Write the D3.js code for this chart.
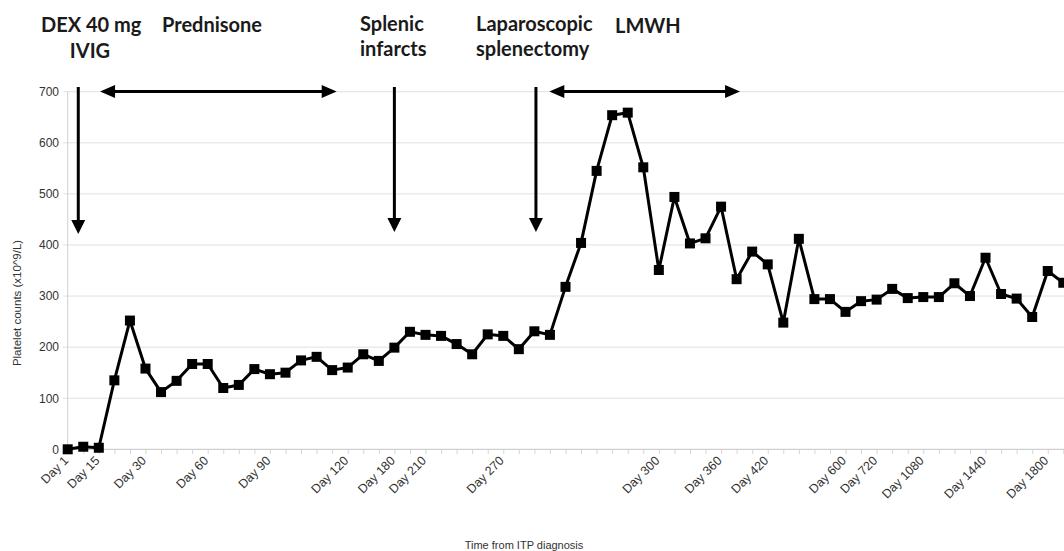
<!DOCTYPE html>
<html><head><meta charset="utf-8">
<script src="https://cdn.jsdelivr.net/npm/d3@7"></script>
<style>body{margin:0;background:#fff}</style>
</head><body>
<svg id="c" width="1064" height="551"></svg>
<script>
// Platelet counts (x10^9/L), one per measurement (category)
const values = [0,5,3,135,252,158,112,134,167,167,120,126,157,147,150,174,181,155,160,186,
  173,199,230,224,222,206,186,225,222,196,231,224,318,404,545,654,659,552,351,494,
  403,413,475,333,387,362,248,412,294,294,269,290,293,314,296,298,298,325,300,375,
  304,295,259,349,326];
// labelled categories on the time axis
const labelIndex = [0,2,5,9,13,18,21,23,28,38,42,45,50,52,55,59,63];
const labelText = ["Day 1","Day 15","Day 30","Day 60","Day 90","Day 120","Day 180","Day 210","Day 270",
  "Day 300","Day 360","Day 420","Day 600","Day 720","Day 1080","Day 1440","Day 1800"];
const yTicks = [0,100,200,300,400,500,600,700];
// treatment events (positions on the category axis)
const downEvents = [
  {at:0.68, head:234},
  {at:21.0, head:232},
  {at:30.1, head:232}
];
const spanEvents = [
  {from:2.08, to:17.29},
  {from:30.96, to:43.22}
];

const svg = d3.select("#c");
const x = d3.scalePoint().domain(d3.range(values.length)).range([67.7, 1063.3]);
const xi = d3.scaleLinear().domain([0, values.length-1]).range(x.range());
const y = d3.scaleLinear().domain([0,700]).range([449.3, 91.7]);
const axisFont = "'Liberation Sans', Arial, sans-serif";

// grid
svg.append("g").selectAll("line").data(yTicks).join("line")
  .attr("x1", 63).attr("x2", 1070)
  .attr("y1", d=>y(d)).attr("y2", d=>y(d))
  .attr("stroke", d=> d===0 ? "#c4c4c4" : "#e0e0e0").attr("stroke-width",1);
// y axis line
svg.append("line").attr("x1",x(0)).attr("x2",x(0)).attr("y1",y(700)).attr("y2",y(0))
  .attr("stroke","#d0d0d0");
// y tick labels
svg.append("g").selectAll("text").data(yTicks).join("text")
  .attr("x", 59).attr("y", d=>y(d)).attr("dy","0.36em")
  .attr("text-anchor","end").attr("font-family",axisFont).attr("font-size",12)
  .attr("fill","#333").text(d=>d);

// x axis ticks and labels
const xAxis = d3.axisBottom(x).tickSize(5).tickPadding(0)
  .tickFormat(i => { const k = labelIndex.indexOf(i); return k>=0 ? labelText[k] : ""; });
const gx = svg.append("g").attr("transform",`translate(0,${y(0)})`).call(xAxis);
gx.select(".domain").remove();
gx.selectAll(".tick line").attr("stroke","#d6d6d6");
gx.selectAll(".tick text")
  .attr("font-family",axisFont).attr("font-size",12.5).attr("fill","#333")
  .attr("text-anchor","end").attr("y",0).attr("dy",0)
  .attr("transform","translate(1,12) rotate(-45)");

// axis titles
svg.append("text").attr("transform","translate(21,303) rotate(-90)")
  .attr("text-anchor","middle").attr("font-family",axisFont).attr("font-size",11.5)
  .attr("fill","#333").text("Platelet counts (x10^9/L)");
svg.append("text").attr("x",524).attr("y",549).attr("text-anchor","middle")
  .attr("font-family",axisFont).attr("font-size",11).attr("fill","#333")
  .text("Time from ITP diagnosis");

// line + markers
const line = d3.line().x((d,i)=>x(i)).y(d=>y(d));
svg.append("path").datum(values).attr("d",line).attr("fill","none")
  .attr("stroke","#000").attr("stroke-width",3).attr("stroke-linejoin","round");
svg.append("g").selectAll("rect").data(values).join("rect")
  .attr("x",(d,i)=>x(i)-5).attr("y",d=>y(d)-5).attr("width",10).attr("height",10)
  .attr("fill","#000");

// annotation arrows
const topY = 87;
downEvents.forEach(e=>{
  const cx = xi(e.at);
  svg.append("line").attr("x1",cx).attr("x2",cx).attr("y1",topY).attr("y2",e.head-10)
    .attr("stroke","#000").attr("stroke-width",3);
  svg.append("path").attr("d",`M${cx-7},${e.head-14}L${cx+7},${e.head-14}L${cx},${e.head}Z`).attr("fill","#000");
});
spanEvents.forEach(e=>{
  const a = xi(e.from), b = xi(e.to), cy = 91.5;
  svg.append("line").attr("x1",a+10).attr("x2",b-10).attr("y1",cy).attr("y2",cy)
    .attr("stroke","#000").attr("stroke-width",3);
  svg.append("path").attr("d",`M${a},${cy}L${a+15},${cy-6.5}L${a+15},${cy+6.5}Z`).attr("fill","#000");
  svg.append("path").attr("d",`M${b},${cy}L${b-15},${cy-6.5}L${b-15},${cy+6.5}Z`).attr("fill","#000");
});

// annotation labels
const annFont = "Lato, 'Open Sans', sans-serif";
const ann = [
  {x:41, y:32, t:"DEX 40 mg", a:"start"},
  {x:90, y:58, t:"IVIG", a:"middle"},
  {x:162, y:32, t:"Prednisone", a:"start"},
  {x:360, y:31, t:"Splenic", a:"start"},
  {x:360, y:56, t:"infarcts", a:"start"},
  {x:476, y:31, t:"Laparoscopic", a:"start"},
  {x:476, y:56, t:"splenectomy", a:"start"},
  {x:615, y:33, t:"LMWH", a:"start"}
];
svg.append("g").selectAll("text").data(ann).join("text")
  .attr("x",d=>d.x).attr("y",d=>d.y).attr("text-anchor",d=>d.a)
  .attr("font-family",annFont).attr("font-weight","bold").attr("font-size",20)
  .attr("fill","#1a1a1a").text(d=>d.t);
</script>
</body></html>
